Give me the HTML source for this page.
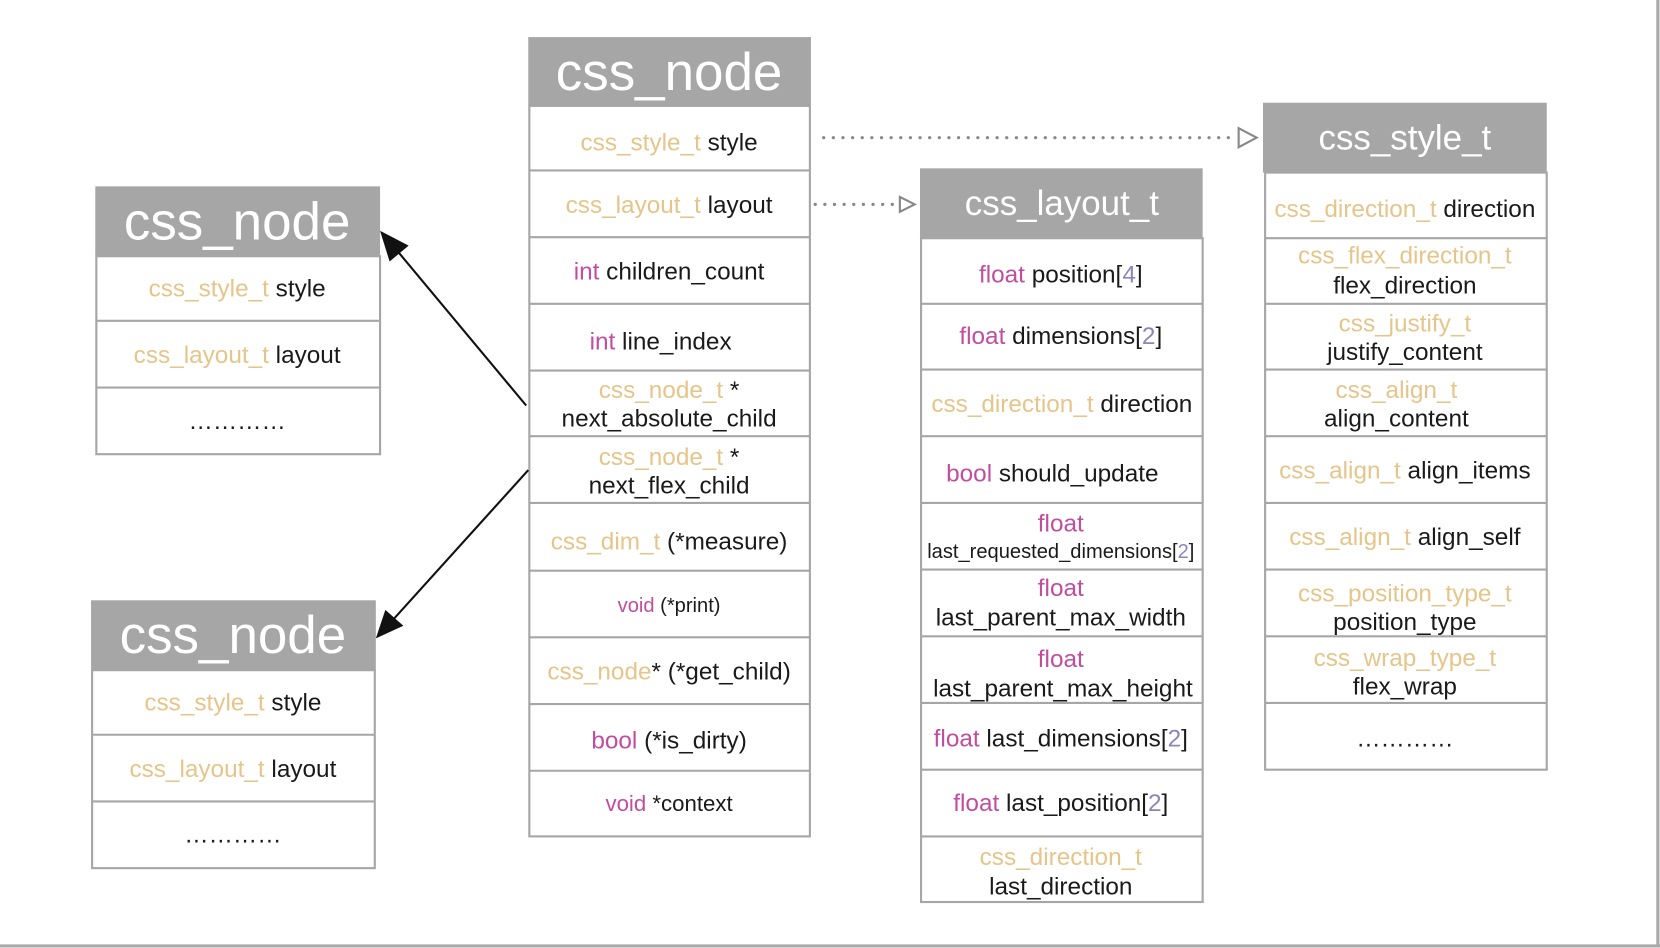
<!DOCTYPE html>
<html><head><meta charset="utf-8"><style>
html,body{margin:0;padding:0;background:#fff;}
svg{display:block;}
text{font-family:"Liberation Sans",sans-serif;}
.f{font-size:23px;fill:#1a1a1a;text-anchor:middle;}
.o{fill:#e5c58a;}
.p{fill:#c24d9f;}
.n{fill:#8d85ba;}
.h{fill:#fff;text-anchor:middle;}
</style></head><body>
<svg width="1660" height="948" viewBox="0 0 1568 895.4" xmlns="http://www.w3.org/2000/svg">
<rect x="0" y="0" width="1568" height="896" fill="#fff"/>
<line x1="0" y1="893.5" x2="1568" y2="893.5" stroke="#aaa" stroke-width="3"/>
<line x1="1566" y1="0" x2="1566" y2="895" stroke="#aaa" stroke-width="3"/>

<g fill="#fff" stroke="#a6a6a6" stroke-width="2">
<rect x="500" y="100" width="265" height="690"/>
<line x1="500" y1="161" x2="765" y2="161"/><line x1="500" y1="224" x2="765" y2="224"/>
<line x1="500" y1="287" x2="765" y2="287"/><line x1="500" y1="350" x2="765" y2="350"/>
<line x1="500" y1="412" x2="765" y2="412"/><line x1="500" y1="475" x2="765" y2="475"/>
<line x1="500" y1="539" x2="765" y2="539"/><line x1="500" y1="602" x2="765" y2="602"/>
<line x1="500" y1="665" x2="765" y2="665"/><line x1="500" y1="728" x2="765" y2="728"/>
<rect x="91" y="242" width="268" height="187"/>
<line x1="91" y1="303" x2="359" y2="303"/><line x1="91" y1="366" x2="359" y2="366"/>
<rect x="87" y="633" width="267" height="187"/>
<line x1="87" y1="694" x2="354" y2="694"/><line x1="87" y1="757" x2="354" y2="757"/>
<rect x="870" y="225" width="266" height="627"/>
<line x1="870" y1="287" x2="1136" y2="287"/><line x1="870" y1="349" x2="1136" y2="349"/>
<line x1="870" y1="412" x2="1136" y2="412"/><line x1="870" y1="475" x2="1136" y2="475"/>
<line x1="870" y1="538" x2="1136" y2="538"/><line x1="870" y1="601" x2="1136" y2="601"/>
<line x1="870" y1="664" x2="1136" y2="664"/><line x1="870" y1="727" x2="1136" y2="727"/>
<line x1="870" y1="790" x2="1136" y2="790"/>
<rect x="1195" y="163" width="266" height="564"/>
<line x1="1195" y1="225" x2="1461" y2="225"/><line x1="1195" y1="287" x2="1461" y2="287"/>
<line x1="1195" y1="349" x2="1461" y2="349"/><line x1="1195" y1="412" x2="1461" y2="412"/>
<line x1="1195" y1="475" x2="1461" y2="475"/><line x1="1195" y1="538" x2="1461" y2="538"/>
<line x1="1195" y1="601" x2="1461" y2="601"/><line x1="1195" y1="664" x2="1461" y2="664"/>
</g>

<g fill="#a6a6a6">
<rect x="499" y="35" width="267" height="65"/>
<rect x="90" y="176" width="269" height="66"/>
<rect x="86" y="567" width="269" height="66"/>
<rect x="869" y="159" width="267" height="66"/>
<rect x="1193" y="97" width="268" height="66"/>
</g>
<text class="h" x="632" y="85" font-size="50">css_node</text>
<text class="h" x="224" y="226" font-size="50">css_node</text>
<text class="h" x="220" y="617" font-size="50">css_node</text>
<text class="h" x="1003" y="203" font-size="33">css_layout_t</text>
<text class="h" x="1327" y="141" font-size="33">css_style_t</text>

<text class="f" x="632" y="142"><tspan class="o">css_style_t</tspan> style</text>
<text class="f" x="632" y="201"><tspan class="o">css_layout_t</tspan> layout</text>
<text class="f" x="632" y="264"><tspan class="p">int</tspan> children_count</text>
<text class="f" x="624" y="330"><tspan class="p">int</tspan> line_index</text>
<text class="f" x="632" y="376"><tspan class="o">css_node_t</tspan> *</text>
<text class="f" x="632" y="403">next_absolute_child</text>
<text class="f" x="632" y="439"><tspan class="o">css_node_t</tspan> *</text>
<text class="f" x="632" y="466">next_flex_child</text>
<text class="f" x="632" y="519"><tspan class="o">css_dim_t</tspan> (*measure)</text>
<text class="f" x="632" y="578" style="font-size:19px"><tspan class="p">void</tspan> (*print)</text>
<text class="f" x="632" y="642"><tspan class="o">css_node</tspan>* (*get_child)</text>
<text class="f" x="632" y="707"><tspan class="p">bool</tspan> (*is_dirty)</text>
<text class="f" x="632" y="766" style="font-size:21px"><tspan class="p">void</tspan> *context</text>

<text class="f" x="224" y="280"><tspan class="o">css_style_t</tspan> style</text>
<text class="f" x="224" y="343"><tspan class="o">css_layout_t</tspan> layout</text>
<text class="f" x="224" y="405">…………</text>
<text class="f" x="220" y="671"><tspan class="o">css_style_t</tspan> style</text>
<text class="f" x="220" y="734"><tspan class="o">css_layout_t</tspan> layout</text>
<text class="f" x="220" y="796">…………</text>

<text class="f" x="1002" y="267"><tspan class="p">float</tspan> position[<tspan class="n">4</tspan>]</text>
<text class="f" x="1002" y="325"><tspan class="p">float</tspan> dimensions[<tspan class="n">2</tspan>]</text>
<text class="f" x="1003" y="389"><tspan class="o">css_direction_t</tspan> direction</text>
<text class="f" x="994" y="455"><tspan class="p">bool</tspan> should_update</text>
<text class="f p" x="1002" y="502">float</text>
<text class="f" x="1002" y="527" style="font-size:19px">last_requested_dimensions[<tspan class="n">2</tspan>]</text>
<text class="f p" x="1002" y="563">float</text>
<text class="f" x="1002" y="591">last_parent_max_width</text>
<text class="f p" x="1002" y="630">float</text>
<text class="f" x="1004" y="658">last_parent_max_height</text>
<text class="f" x="1002" y="705"><tspan class="p">float</tspan> last_dimensions[<tspan class="n">2</tspan>]</text>
<text class="f" x="1002" y="766"><tspan class="p">float</tspan> last_position[<tspan class="n">2</tspan>]</text>
<text class="f o" x="1002" y="817">css_direction_t</text>
<text class="f" x="1002" y="845">last_direction</text>

<text class="f" x="1327" y="205"><tspan class="o">css_direction_t</tspan> direction</text>
<text class="f o" x="1327" y="249">css_flex_direction_t</text>
<text class="f" x="1327" y="277">flex_direction</text>
<text class="f o" x="1327" y="313">css_justify_t</text>
<text class="f" x="1327" y="340">justify_content</text>
<text class="f o" x="1319" y="376">css_align_t</text>
<text class="f" x="1319" y="403">align_content</text>
<text class="f" x="1327" y="452"><tspan class="o">css_align_t</tspan> align_items</text>
<text class="f" x="1327" y="515"><tspan class="o">css_align_t</tspan> align_self</text>
<text class="f o" x="1327" y="568">css_position_type_t</text>
<text class="f" x="1327" y="595">position_type</text>
<text class="f o" x="1327" y="629">css_wrap_type_t</text>
<text class="f" x="1327" y="656">flex_wrap</text>
<text class="f" x="1327" y="705">…………</text>

<line x1="778" y1="130" x2="1168" y2="130" stroke="#888" stroke-width="3" stroke-dasharray="0.1 9" stroke-linecap="round"/>
<polygon points="1170,121 1187,130 1170,139" fill="#fff" stroke="#888" stroke-width="2"/>
<line x1="770" y1="193" x2="846" y2="193" stroke="#888" stroke-width="3" stroke-dasharray="0.1 9" stroke-linecap="round"/>
<polygon points="850,186 864,193 850,200" fill="#fff" stroke="#888" stroke-width="2"/>

<line x1="497" y1="383" x2="372" y2="233" stroke="#111" stroke-width="2"/>
<polygon points="359,218 386,232 368,247" fill="#111"/>
<line x1="499" y1="444" x2="368" y2="589" stroke="#111" stroke-width="2"/>
<polygon points="355,603 364,576 381,591" fill="#111"/>
</svg>
</body></html>
